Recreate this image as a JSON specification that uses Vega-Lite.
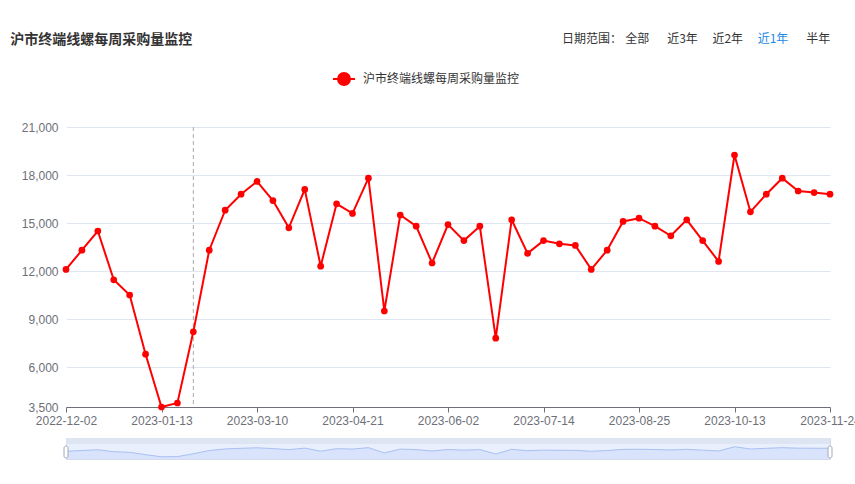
{
  "$schema": "https://vega.github.io/schema/vega-lite/v6.json",
  "autosize": {"type": "none"},
  "padding": {"left": 66, "top": 127, "right": 789, "bottom": 357},
  "background": "white",
  "title": {"text": "沪市终端线螺每周采购量监控", "anchor": "start", "fontSize": 14, "fontWeight": "bold", "color": "#333333", "font": "Noto Sans CJK SC", "dx": -11, "dy": 19},
  "config": {"font": "Liberation Sans, Noto Sans CJK SC", "view": {"stroke": null}},
  "datasets": {
    "weekly": [
      {"date": "2022-12-02", "value": 12100},
      {"date": "2022-12-09", "value": 13300},
      {"date": "2022-12-16", "value": 14500},
      {"date": "2022-12-23", "value": 11450},
      {"date": "2022-12-30", "value": 10500},
      {"date": "2023-01-06", "value": 6800},
      {"date": "2023-01-13", "value": 3500},
      {"date": "2023-01-20", "value": 3750},
      {"date": "2023-02-10", "value": 8200},
      {"date": "2023-02-17", "value": 13300},
      {"date": "2023-02-24", "value": 15800},
      {"date": "2023-03-03", "value": 16800},
      {"date": "2023-03-10", "value": 17600},
      {"date": "2023-03-17", "value": 16400},
      {"date": "2023-03-24", "value": 14700},
      {"date": "2023-03-31", "value": 17100},
      {"date": "2023-04-07", "value": 12300},
      {"date": "2023-04-14", "value": 16200},
      {"date": "2023-04-21", "value": 15600},
      {"date": "2023-04-28", "value": 17800},
      {"date": "2023-05-05", "value": 9500},
      {"date": "2023-05-12", "value": 15500},
      {"date": "2023-05-19", "value": 14800},
      {"date": "2023-05-26", "value": 12500},
      {"date": "2023-06-02", "value": 14900},
      {"date": "2023-06-09", "value": 13900},
      {"date": "2023-06-16", "value": 14800},
      {"date": "2023-06-23", "value": 7800},
      {"date": "2023-06-30", "value": 15200},
      {"date": "2023-07-07", "value": 13100},
      {"date": "2023-07-14", "value": 13900},
      {"date": "2023-07-21", "value": 13700},
      {"date": "2023-07-28", "value": 13600},
      {"date": "2023-08-04", "value": 12100},
      {"date": "2023-08-11", "value": 13300},
      {"date": "2023-08-18", "value": 15100},
      {"date": "2023-08-25", "value": 15300},
      {"date": "2023-09-01", "value": 14800},
      {"date": "2023-09-08", "value": 14200},
      {"date": "2023-09-15", "value": 15200},
      {"date": "2023-09-22", "value": 13900},
      {"date": "2023-09-29", "value": 12600},
      {"date": "2023-10-13", "value": 19250},
      {"date": "2023-10-20", "value": 15700},
      {"date": "2023-10-27", "value": 16800},
      {"date": "2023-11-03", "value": 17800},
      {"date": "2023-11-10", "value": 17000},
      {"date": "2023-11-17", "value": 16900},
      {"date": "2023-11-24", "value": 16800}
    ],
    "buttons": [
      {"btn": "日期范围："},
      {"btn": "全部"},
      {"btn": "近3年"},
      {"btn": "近2年"},
      {"btn": "近1年"},
      {"btn": "半年"}
    ]
  },
  "vconcat": [
    {
      "width": 764,
      "height": 280,
      "layer": [
        {
          "layer": [
            {
              "data": {"name": "weekly"},
              "transform": [{"filter": "datum.date === '2023-02-10'"}],
              "mark": {"type": "rule", "color": "#aaaaaa", "strokeDash": [4, 3], "strokeWidth": 1},
              "encoding": {
                "x": {"field": "date", "type": "ordinal", "scale": {"type": "point", "padding": 0}}
              }
            },
            {
              "data": {"name": "weekly"},
              "mark": {"type": "line", "strokeWidth": 2, "point": {"filled": true, "size": 45}},
              "encoding": {
                "x": {
                  "field": "date", "type": "ordinal",
                  "scale": {"type": "point", "padding": 0},
                  "axis": {
                    "title": null,
                    "values": ["2022-12-02", "2023-01-13", "2023-03-10", "2023-04-21", "2023-06-02", "2023-07-14", "2023-08-25", "2023-10-13", "2023-11-24"],
                    "labelAngle": 0,
                    "labelAlign": "center",
                    "labelBaseline": "top",
                    "labelOverlap": false,
                    "labelFontSize": 12,
                    "labelColor": "#6E7079",
                    "labelPadding": 3,
                    "tickSize": 5,
                    "tickColor": "#6E7079",
                    "domainColor": "#6E7079",
                    "grid": false
                  }
                },
                "y": {
                  "field": "value", "type": "quantitative",
                  "scale": {"domain": [3500, 21000], "nice": false, "zero": false},
                  "axis": {
                    "title": null,
                    "values": [3500, 6000, 9000, 12000, 15000, 18000, 21000],
                    "format": ",.0f",
                    "domain": false,
                    "ticks": false,
                    "labelPadding": 8,
                    "labelFontSize": 12,
                    "labelColor": "#6E7079",
                    "gridColor": "#E0E6F1"
                  }
                },
                "color": {
                  "datum": "沪市终端线螺每周采购量监控",
                  "scale": {"range": ["#ff0000"]},
                  "legend": {
                    "orient": "none",
                    "legendX": 265,
                    "legendY": -61,
                    "title": null,
                    "padding": 0,
                    "labelFontSize": 12,
                    "labelColor": "#333333",
                    "labelFont": "Noto Sans CJK SC",
                    "labelOffset": 6,
                    "symbolSize": 576,
                    "symbolType": "M-0.92,0L0.92,0M0.5,0A0.5,0.5,0,1,1,-0.5,0A0.5,0.5,0,1,1,0.5,0Z",
                    "symbolStrokeWidth": 2,
                    "symbolFillColor": "#ff0000",
                    "symbolStrokeColor": "#ff0000",
                    "encode": {
                      "symbols": {
                        "update": {
                          "fill": {"value": "#ff0000"},
                          "stroke": {"value": "#ff0000"},
                          "strokeWidth": {"value": 2},
                          "opacity": {"value": 1},
                          "shape": {"value": "M-0.92,0L0.92,0M0.5,0A0.5,0.5,0,1,1,-0.5,0A0.5,0.5,0,1,1,0.5,0Z"},
                          "size": {"value": 576}
                        }
                      }
                    }
                  }
                }
              }
            }
          ]
        },
        {
          "data": {"name": "buttons"},
          "mark": {"type": "point", "opacity": 0},
          "encoding": {
            "x": {
              "field": "btn", "type": "nominal", "sort": null,
              "scale": {"type": "point", "padding": 0, "range": [525.5, 751.7]},
              "axis": {
                "orient": "top",
                "offset": 82,
                "title": null,
                "domain": false,
                "ticks": false,
                "grid": false,
                "labelPadding": 0,
                "labelAngle": 0,
                "labelFontSize": 12,
                "labelFont": "Noto Sans CJK SC",
                "labelColor": {"condition": {"test": "datum.value === '近1年'", "value": "#1e88e5"}, "value": "#333333"}
              }
            }
          }
        }
      ],
      "resolve": {"scale": {"x": "independent"}, "axis": {"x": "independent"}}
    },
    {
      "width": 764,
      "height": 21,
      "view": {"fill": "#e9effd", "stroke": "#d3dbec"},
      "layer": [
        {
          "data": {"values": [{}]},
          "mark": {"type": "rect", "color": "#dde4f2"},
          "encoding": {
            "y": {"datum": 33000, "type": "quantitative", "scale": {"domain": [0, 33000], "nice": false, "zero": false}, "axis": null},
            "y2": {"datum": 23571}
          }
        },
        {
          "data": {"name": "weekly"},
          "mark": {"type": "area", "color": "#d2defa", "line": {"color": "#a9c0f2", "strokeWidth": 1}},
          "encoding": {
            "x": {"field": "date", "type": "ordinal", "scale": {"type": "point", "padding": 0}, "axis": null},
            "y": {"field": "value", "type": "quantitative", "scale": {"domain": [0, 33000], "nice": false}, "axis": null}
          }
        },
        {
          "data": {"name": "weekly"},
          "transform": [{"filter": "datum.date === '2022-12-02' || datum.date === '2023-11-24'"}],
          "mark": {"type": "tick", "orient": "vertical", "color": "#ffffff", "stroke": "#a0a8b8", "strokeWidth": 1, "size": 12, "thickness": 4, "cornerRadius": 2, "opacity": 1},
          "encoding": {
            "x": {"field": "date", "type": "ordinal", "scale": {"type": "point", "padding": 0}, "axis": null},
            "y": {"datum": 11000, "type": "quantitative"}
          }
        }
      ]
    }
  ],
  "spacing": 11
}
